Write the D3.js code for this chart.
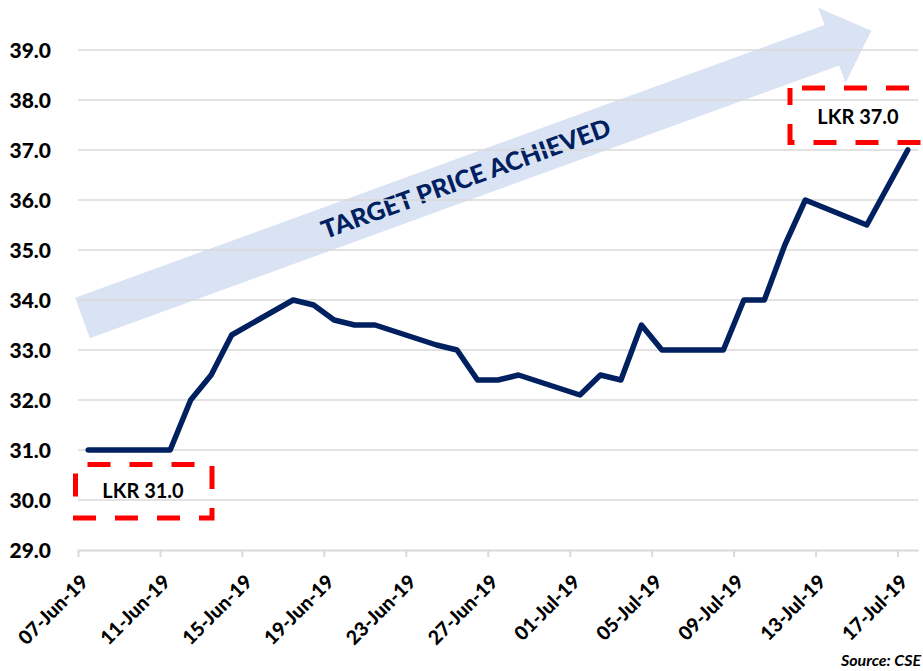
<!DOCTYPE html>
<html>
<head>
<meta charset="utf-8">
<script src="https://cdn.jsdelivr.net/npm/d3@7"></script>
<style>
  html, body { margin: 0; padding: 0; background: #fff; }
  #chart { width: 923px; height: 671px; overflow: hidden; }
  text { font-family: Lato, "Open Sans", sans-serif; }
</style>
</head>
<body>
<div id="chart"></div>
<script>
// trading days and closing prices (LKR)
const dates = [
  "2019-06-07", "2019-06-10", "2019-06-11", "2019-06-12", "2019-06-13", "2019-06-14",
  "2019-06-17", "2019-06-18", "2019-06-19", "2019-06-20", "2019-06-21",
  "2019-06-24", "2019-06-25", "2019-06-26", "2019-06-27", "2019-06-28",
  "2019-07-01", "2019-07-02", "2019-07-03", "2019-07-04", "2019-07-05",
  "2019-07-08", "2019-07-09", "2019-07-10", "2019-07-11", "2019-07-12",
  "2019-07-15", "2019-07-17"
];
const prices = [
  31.0, 31.0, 31.0, 32.0, 32.5, 33.3,
  34.0, 33.9, 33.6, 33.5, 33.5,
  33.1, 33.0, 32.4, 32.4, 32.5,
  32.1, 32.5, 32.4, 33.5, 33.0,
  33.0, 34.0, 34.0, 35.1, 36.0,
  35.5, 37.0
];
const yTicks = [29, 30, 31, 32, 33, 34, 35, 36, 37, 38, 39];
const xTickDates = ["2019-06-07", "2019-06-11", "2019-06-15", "2019-06-19", "2019-06-23",
  "2019-06-27", "2019-07-01", "2019-07-05", "2019-07-09", "2019-07-13", "2019-07-17"];
const startLabel = "LKR 31.0";
const endLabel = "LKR 37.0";
const arrowLabel = "TARGET PRICE ACHIEVED";
const sourceLabel = "Source: CSE";

const parse = d3.utcParse("%Y-%m-%d");
const fmt = d3.utcFormat("%d-%b-%y");
const data = dates.map((d, i) => ({ date: parse(d), price: prices[i] }));

const width = 923, height = 671;
const svg = d3.select("#chart").append("svg")
  .attr("width", width)
  .attr("height", height);

// date axis, points sit in the middle of their day
let xScale = d3.scaleUtc()
  .domain([parse("2019-06-07"), parse("2019-07-18")])
  .range([78, 918]);
let yScale = d3.scaleLinear().domain([29, 39]).range([550, 50]);
const mid = (d) => d3.utcHour.offset(d, 12);

// gridlines
svg.append("g").selectAll("line")
  .data(yTicks.filter((v) => v > 29))
  .enter().append("line")
  .attr("x1", xScale.range()[0]).attr("x2", xScale.range()[1])
  .attr("y1", (d) => yScale(d)).attr("y2", (d) => yScale(d))
  .attr("stroke", "#d9d9d9").attr("stroke-width", 1.5);

// y labels
svg.append("g").selectAll("text")
  .data(yTicks)
  .enter().append("text")
  .attr("x", 51)
  .attr("y", (d) => yScale(d))
  .attr("dy", "0.36em")
  .attr("text-anchor", "end")
  .attr("font-size", 21)
  .attr("font-weight", 900)
  .attr("fill", "#000")
  .text((d) => d.toFixed(1));

// x axis
let xAxis = d3.axisBottom(xScale)
  .tickValues(xTickDates.map(parse))
  .tickSize(7)
  .tickSizeOuter(0)
  .tickFormat(fmt);
const gx = svg.append("g")
  .attr("transform", `translate(0, ${yScale(29)})`)
  .call(xAxis);
gx.select(".domain").attr("stroke", "#d9d9d9").attr("stroke-width", 2);
gx.selectAll(".tick line").attr("stroke", "#d9d9d9").attr("stroke-width", 2);
gx.selectAll(".tick text")
  .attr("font-size", 19.5)
  .attr("font-weight", 900)
  .attr("font-family", "Lato, sans-serif")
  .attr("fill", "#000")
  .attr("text-anchor", "end")
  .attr("x", 0).attr("y", 0).attr("dy", 0)
  .attr("transform", "translate(11, 33) rotate(-45)");

// arrow annotation
const arrow = svg.insert("g", "g")
  .attr("transform", "translate(82.5, 318) rotate(-20)");
arrow.append("polygon")
  .attr("points", "0,-21.5 797.5,-21.5 797.5,-40 839.5,0 797.5,40 797.5,21.5 0,21.5")
  .attr("fill", "#dae3f3");
arrow.append("text")
  .attr("x", 408).attr("y", 9)
  .attr("text-anchor", "middle")
  .attr("font-size", 25)
  .attr("font-weight", 900)
  .attr("fill", "#002060")
  .attr("textLength", 306)
  .attr("lengthAdjust", "spacingAndGlyphs")
  .text(arrowLabel);

// price line
const drawLine = d3.line()
  .x((d) => xScale(mid(d.date)))
  .y((d) => yScale(d.price));
svg.append("path")
  .attr("d", drawLine(data))
  .attr("fill", "none")
  .attr("stroke", "#002060")
  .attr("stroke-width", 5.5)
  .attr("stroke-linejoin", "round")
  .attr("stroke-linecap", "round");

// dashed callouts
svg.append("rect")
  .attr("x", 75.5).attr("y", 464.5).attr("width", 136.5).attr("height", 53.5)
  .attr("fill", "none").attr("stroke", "#ff0000").attr("stroke-width", 5)
  .attr("stroke-dasharray", "23 19").attr("stroke-dashoffset", 30);
svg.append("text")
  .attr("x", 143).attr("y", 498)
  .attr("text-anchor", "middle")
  .attr("font-size", 20).attr("font-weight", "bold").attr("fill", "#000")
  .text(startLabel);

svg.append("rect")
  .attr("x", 790).attr("y", 88).attr("width", 170).attr("height", 54.5)
  .attr("fill", "none").attr("stroke", "#ff0000").attr("stroke-width", 5)
  .attr("stroke-dasharray", "23 19").attr("stroke-dashoffset", 30);
svg.append("text")
  .attr("x", 858).attr("y", 124)
  .attr("text-anchor", "middle")
  .attr("font-size", 20).attr("font-weight", "bold").attr("fill", "#000")
  .text(endLabel);

svg.append("text")
  .attr("x", 921).attr("y", 666)
  .attr("text-anchor", "end")
  .attr("font-size", 16).attr("font-weight", "bold").attr("font-style", "italic")
  .attr("fill", "#000")
  .text(sourceLabel);
</script>
</body>
</html>
